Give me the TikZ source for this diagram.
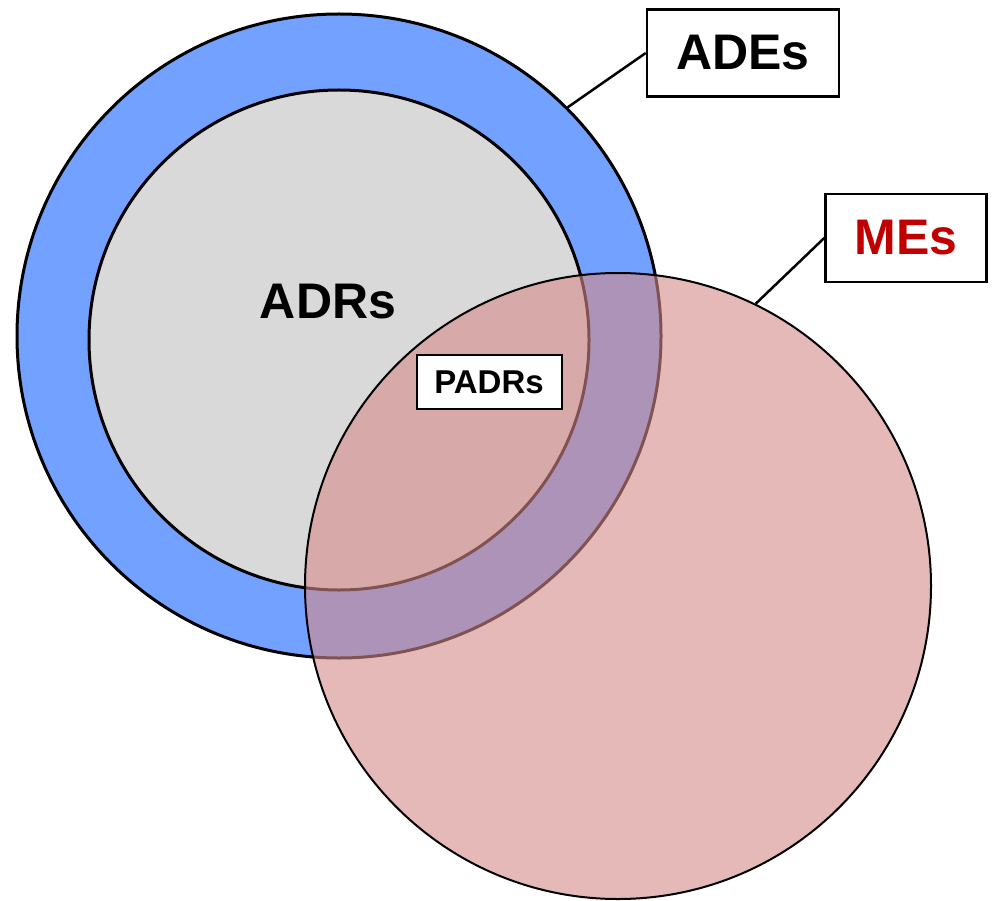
\documentclass[tikz,border=0pt]{standalone}
\usepackage{fontspec}
\setmainfont{Liberation Sans}
\definecolor{adeblue}{RGB}{115,161,255}
\definecolor{adrgray}{RGB}{217,217,217}
\definecolor{mepink}{RGB}{214,138,138}
\definecolor{mered}{RGB}{192,0,0}
\tikzset{
  label box/.style={draw, line width=2.5pt, fill=white, inner sep=0pt, font=\bfseries},
}
\begin{document}
\begin{tikzpicture}[x=1pt, y=-1pt]

    \useasboundingbox (0, 0) rectangle (992, 901);

    % Circulos
    \node[circle, draw, line width=3pt, fill=adeblue, minimum size=644pt, inner sep=0pt] (ade) at (339, 336) {};
    \node[circle, draw, line width=3pt, fill=adrgray, minimum size=500pt, inner sep=0pt] (adr) at (339, 340) {};
    \node[circle, draw, line width=2pt, fill=mepink, fill opacity=0.6, minimum size=626pt, inner sep=0pt] (me) at (618, 586) {};

    % Etiquetas
    \node[font=\bfseries\fontsize{50}{50}\selectfont] (adrtext) at (328, 302) {ADRs};
    \node[label box, minimum width=192pt, minimum height=87pt, font=\bfseries\fontsize{50}{50}\selectfont] (ades) at (743, 53) {ADEs};
    \node[label box, minimum width=161pt, minimum height=88pt, text=mered, font=\bfseries\fontsize{50}{50}\selectfont] (mes) at (906, 238) {MEs};
    \node[label box, line width=2pt, minimum width=145pt, minimum height=54pt, font=\bfseries\fontsize{33}{33}\selectfont] (padrs) at (489, 382) {PADRs};

    % Lineas
    \draw[line width=2.5pt] (ades.west) -- (ade.45);
    \draw[line width=2.5pt] (mes.west) -- (me.64);

\end{tikzpicture}
\end{document}
